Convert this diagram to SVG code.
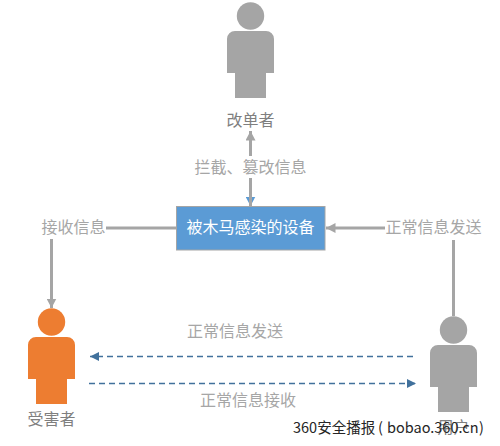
<svg xmlns="http://www.w3.org/2000/svg" width="500" height="446" viewBox="0 0 500 446">
<defs>
<style>
text{font-family:"Noto Sans CJK SC","Liberation Sans",sans-serif;font-size:16px;text-anchor:middle}
.lab{fill:#a6a6a6}.who{fill:#7f7f7f}
.g{stroke:#a5a5a5;stroke-width:3;fill:none}
.d{stroke:#41719c;stroke-width:1.500;stroke-dasharray:6 4;fill:none}
.wm{font-size:14.500px;text-anchor:start;fill:#262626}
</style>
<marker id="ga" markerUnits="userSpaceOnUse" markerWidth="12" markerHeight="10" refX="9.500" refY="5" orient="auto"><path d="M0 0L9.500 5L0 10Z" fill="#a5a5a5"/></marker>
<marker id="ba" markerUnits="userSpaceOnUse" markerWidth="10" markerHeight="10" refX="9" refY="4.500" orient="auto"><path d="M0 0L9 4.500L0 9Z" fill="#41719c"/></marker>
<marker id="la" markerUnits="userSpaceOnUse" markerWidth="12" markerHeight="10" refX="9.500" refY="5" orient="auto"><path d="M0 0L9.500 5L0 10Z" fill="#5b9bd5"/></marker>
<path id="p" d="M-23.500 39a8 8 0 0 1 8-8h31a8 8 0 0 1 8 8v34h-8v25h-31v-25h-8Z"/>
</defs>
<rect width="500" height="446" fill="#fff"/>
<g id="connectors">
<path class="g" d="M250.500 156V131" marker-end="url(#ga)"/>
<path class="g" d="M250.500 178V206" marker-end="url(#la)"/>
<path class="g" d="M250.500 178V206"/>
<path class="g" d="M176 228H106"/>
<path class="g" d="M51.500 239V308" marker-end="url(#ga)"/>
<path class="g" d="M385 228H326" marker-end="url(#ga)"/>
<path class="g" d="M453.500 240V316"/>
<path class="d" d="M413 356.500H90" marker-end="url(#ba)"/>
<path class="d" d="M89 383.500H416" marker-end="url(#ba)"/>
<text class="lab" x="250.500" y="173">拦截、篡改信息</text>
<text class="lab" x="73.500" y="233">接收信息</text>
<text class="lab" x="433.500" y="233">正常信息发送</text>
<text class="lab" x="235" y="337">正常信息发送</text>
<text class="lab" x="248" y="406">正常信息接收</text>
</g>
<g id="tamperer" fill="#a5a5a5">
<circle cx="250.500" cy="16" r="13.700"/>
<use href="#p" x="250.500" y="0"/>
<text class="who" x="250.500" y="126">改单者</text>
</g>
<g id="device">
<rect x="176.500" y="206.500" width="148.500" height="43.500" fill="#5b9bd5" stroke="#a5a5a5"/>
<text x="250.500" y="233" fill="#fff">被木马感染的设备</text>
</g>
<g id="victim" fill="#ed7d31">
<circle cx="51.500" cy="322" r="13.700"/>
<use href="#p" x="51.500" y="306"/>
<text class="who" x="51.500" y="425">受害者</text>
</g>
<g id="user" fill="#a5a5a5">
<circle cx="453.500" cy="330" r="13.700"/>
<use href="#p" x="453.500" y="314"/>
<text class="who" x="453.500" y="433">用户</text>
</g>
<text class="wm" y="433"><tspan x="293">360安全播报</tspan><tspan x="378">(</tspan><tspan x="387">bobao.360.cn</tspan><tspan x="479">)</tspan></text>
</svg>
